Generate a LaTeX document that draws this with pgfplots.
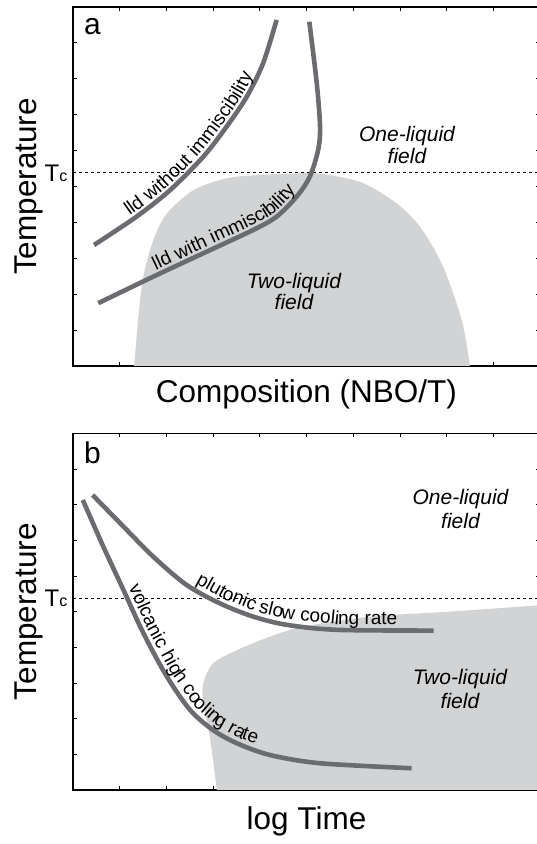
\documentclass[border=0pt]{standalone}
\usepackage{pgfplots}
\pgfplotsset{compat=1.18}
\usepackage{fontspec}
\setmainfont{Liberation Sans}
\usetikzlibrary{decorations.text}

\definecolor{curvegray}{HTML}{6B6C6F}
\definecolor{fieldgray}{HTML}{D1D3D4}

\protected\def\cvfont{\fontsize{19}{19}\selectfont}

\pgfplotsset{
  phase/.style={
    scale only axis,
    width=467pt,
    xmin=0, xmax=10, ymin=0, ymax=10,
    xtick={1,...,9}, ytick={1,...,9},
    xticklabels={}, yticklabels={},
    tick align=inside,
    major tick length=4pt,
    axis line style={line width=1.1pt},
    every tick/.style={black, line width=0.8pt},
  },
  lld/.style={curvegray, line width=4.6pt, smooth, no markers},
  tcline/.style={black, line width=0.8pt, dash pattern=on 3pt off 3pt, no markers},
  curvetext/.style n args={3}{postaction={decorate, decoration={text along path,
    text={|\cvfont|#1}, text align={left, left indent=#2}, raise=#3}}},
}

\begin{document}
\begin{tikzpicture}

% ---- panel a: composition
\begin{axis}[phase, height=359pt, at={(73pt,478pt)}, anchor=south west]
\addplot[fill=fieldgray, draw=none, smooth] coordinates {
  (1.31,0) (1.40,1.37) (1.505,2.49) (1.72,3.51) (2.01,4.25) (2.58,4.90)
  (3.29,5.23) (4.00,5.32) (4.99,5.37) (5.50,5.32) (6.22,5.09) (6.93,4.53)
  (7.43,3.88) (7.86,2.95) (8.14,2.03) (8.36,1.09) (8.50,0)
} \closedcycle;
\addplot[tcline] coordinates {(0,5.40) (10,5.40)};
\addplot[lld, curvetext={lld without immiscibility}{46pt}{4.5pt}] coordinates {
  (0.45,3.37) (1.36,4.16) (2.08,4.90) (2.79,5.83) (3.29,6.67)
  (3.72,7.50) (4.07,8.43) (4.36,9.64)
};
\addplot[lld, curvetext={lld with immiscibility}{66pt}{4.5pt}] coordinates {
  (0.54,1.75) (1.72,2.49) (2.79,3.14) (3.86,3.79) (4.36,4.16) (4.79,4.72)
  (5.07,5.27) (5.25,6.02) (5.29,6.67) (5.22,7.87) (5.06,9.59)
};
\end{axis}

% ---- panel b: cooling paths
\begin{axis}[phase, height=356.7pt, at={(73pt,54pt)}, anchor=south west]
\addplot[fill=fieldgray, draw=none, smooth] coordinates {
  (3.08,0) (2.93,1.49) (2.79,2.43) (2.79,2.99) (3.00,3.55) (3.51,3.92)
  (4.22,4.30) (4.93,4.58) (6.36,4.86) (8.07,5.00) (10,5.18)
} \closedcycle;
\addplot[tcline] coordinates {(0,5.37) (10,5.37)};
% plutonic path
\addplot[lld] coordinates {
  (0.42,8.27) (1.01,7.48) (1.72,6.54) (2.43,5.75) (3.15,5.23) (3.86,4.86)
  (4.58,4.63) (5.65,4.49) (7.72,4.47)
};
\addplot[draw=none, sharp plot, no markers, curvetext={plutonic slow cooling rate}{137pt}{5.5pt}] coordinates {
  (0.42,8.27) (1.01,7.48) (1.72,6.54) (2.43,5.75) (3.15,5.23) (3.86,4.86)
  (4.58,4.63) (5.65,4.49) (7.72,4.47)
};
% volcanic path
\addplot[lld] coordinates {
  (0.21,8.13) (0.65,6.82) (1.08,5.61) (1.51,4.39) (2.01,3.18) (2.51,2.24)
  (3.00,1.68) (3.51,1.31) (4.22,0.98) (5.29,0.75) (7.25,0.61)
};
\addplot[draw=none, sharp plot, no markers, curvetext={volcanic high cooling rate}{99pt}{5.5pt}] coordinates {
  (0.21,8.13) (0.65,6.82) (1.08,5.61) (1.51,4.39) (2.01,3.18) (2.51,2.24)
  (3.00,1.68) (3.51,1.31) (4.22,0.98) (5.29,0.75) (7.25,0.61)
};
\end{axis}

% ---- labels
\node[anchor=base west, inner sep=0, font=\fontsize{30}{30}\selectfont] at (84pt,809pt) {a};
\node[anchor=base west, inner sep=0, font=\fontsize{30}{30}\selectfont] at (84pt,380.7pt) {b};
\node[anchor=base east, inner sep=0, font=\fontsize{24}{24}\selectfont] at (67.5pt,662.3pt) {T{\fontsize{16}{16}\selectfont c}};
\node[anchor=base east, inner sep=0, font=\fontsize{24}{24}\selectfont] at (67.5pt,237.3pt) {T{\fontsize{16}{16}\selectfont c}};
\node[anchor=base, inner sep=0, font=\fontsize{31.5}{31.5}\selectfont] at (306.5pt,441pt) {Composition (NBO/T)};
\node[anchor=base, inner sep=0, font=\fontsize{31.5}{31.5}\selectfont] at (306.5pt,14pt) {log Time};
\node[anchor=base, rotate=90, inner sep=0, font=\fontsize{31.5}{31.5}\selectfont] at (36.6pt,657.5pt) {Temperature};
\node[anchor=base, rotate=90, inner sep=0, font=\fontsize{31.5}{31.5}\selectfont] at (36.6pt,232.3pt) {Temperature};
\begin{scope}[every node/.style={anchor=base, inner sep=0, font=\fontsize{21}{21}\selectfont\itshape}]
\node at (407pt,702.3pt) {One-liquid};
\node at (407pt,680.7pt) {field};
\node at (294pt,555.7pt) {Two-liquid};
\node at (294pt,534pt) {field};
\node at (460.5pt,339pt) {One-liquid};
\node at (460.5pt,315.7pt) {field};
\node at (460pt,159pt) {Two-liquid};
\node at (460pt,135.7pt) {field};
\end{scope}

\pgfresetboundingbox
\useasboundingbox (0pt,0pt) rectangle (537pt,844pt);
\end{tikzpicture}
\end{document}
